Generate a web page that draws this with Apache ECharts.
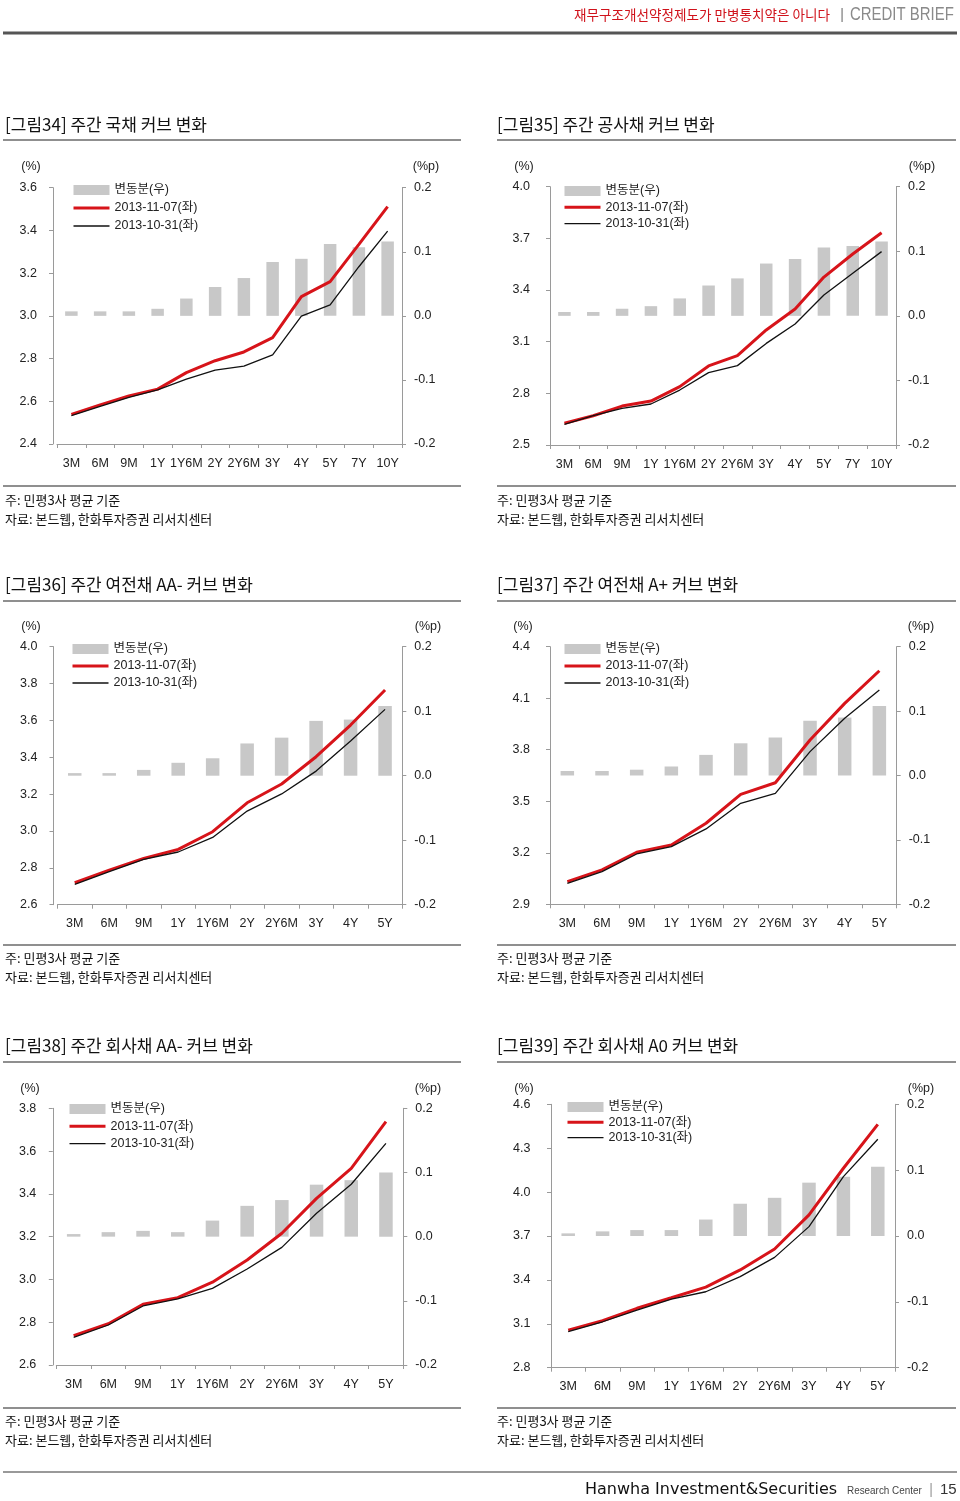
<!DOCTYPE html>
<html>
<head>
<meta charset="utf-8">
<script src="https://cdn.jsdelivr.net/npm/echarts@6/dist/echarts.min.js"></script>
<style>
html,body{margin:0;padding:0;background:#fff;}
#page{width:960px;height:1501px;}
</style>
</head>
<body>
<div id="page"></div>
<script>
// ---------- DATA ----------
const cats12 = ['3M','6M','9M','1Y','1Y6M','2Y','2Y6M','3Y','4Y','5Y','7Y','10Y'];
const cats10 = ['3M','6M','9M','1Y','1Y6M','2Y','2Y6M','3Y','4Y','5Y'];

const seriesNames = ['변동분(우)', '2013-11-07(좌)', '2013-10-31(좌)'];
const rightTicks = [-0.2, -0.1, 0, 0.1, 0.2];

// [그림34] 국채
const gov_1107 = [2.539,2.583,2.625,2.657,2.734,2.790,2.831,2.898,3.090,3.160,3.335,3.511];
const gov_1031 = [2.533,2.576,2.618,2.653,2.704,2.746,2.765,2.817,2.999,3.051,3.230,3.397];
const gov_chg  = [0.007,0.007,0.007,0.011,0.027,0.045,0.059,0.084,0.089,0.112,0.107,0.116];
const gov_ticks = [2.4,2.6,2.8,3.0,3.2,3.4,3.6];

// [그림35] 공사채
const pub_1107 = [2.626,2.670,2.726,2.755,2.839,2.959,3.019,3.168,3.290,3.475,3.609,3.733];
const pub_1031 = [2.620,2.670,2.713,2.738,2.819,2.920,2.961,3.090,3.203,3.371,3.497,3.623];
const pub_chg  = [0.006,0.006,0.011,0.015,0.027,0.047,0.058,0.081,0.088,0.106,0.108,0.115];
const pub_ticks = [2.5,2.8,3.1,3.4,3.7,4.0];

// [그림36] 여전채 AA-
const cardAA_1107 = [2.719,2.788,2.851,2.900,2.996,3.153,3.255,3.403,3.575,3.765];
const cardAA_1031 = [2.710,2.779,2.846,2.886,2.965,3.108,3.201,3.325,3.488,3.660];
const cardAA_chg  = [0.004,0.004,0.009,0.020,0.027,0.050,0.059,0.085,0.087,0.108];
const cardAA_ticks = [2.6,2.8,3.0,3.2,3.4,3.6,3.8,4.0];

// [그림37] 여전채 A+
const cardAp_1107 = [3.032,3.100,3.203,3.245,3.372,3.540,3.608,3.857,4.070,4.260];
const cardAp_1031 = [3.022,3.090,3.193,3.236,3.339,3.488,3.546,3.789,3.983,4.148];
const cardAp_chg  = [0.007,0.007,0.009,0.014,0.032,0.050,0.059,0.085,0.090,0.108];
const cardAp_ticks = [2.9,3.2,3.5,3.8,4.1,4.4];

// [그림38] 회사채 AA-
const corpAA_1107 = [2.737,2.793,2.884,2.915,2.987,3.091,3.216,3.379,3.519,3.738];
const corpAA_1031 = [2.729,2.787,2.876,2.909,2.958,3.049,3.150,3.309,3.445,3.636];
const corpAA_chg  = [0.004,0.007,0.009,0.007,0.025,0.048,0.057,0.081,0.088,0.100];
const corpAA_ticks = [2.6,2.8,3.0,3.2,3.4,3.6,3.8];

// [그림39] 회사채 A0
const corpA_1107 = [3.057,3.121,3.206,3.278,3.351,3.468,3.611,3.844,4.163,4.463];
const corpA_1031 = [3.046,3.114,3.194,3.269,3.319,3.422,3.554,3.764,4.106,4.361];
const corpA_chg  = [0.004,0.007,0.009,0.009,0.025,0.049,0.058,0.081,0.090,0.105];
const corpA_ticks = [2.8,3.1,3.4,3.7,4.0,4.3,4.6];

const titles = [
  '[그림34] 주간 국채 커브 변화',
  '[그림35] 주간 공사채 커브 변화',
  '[그림36] 주간 여전채 AA- 커브 변화',
  '[그림37] 주간 여전채 A+ 커브 변화',
  '[그림38] 주간 회사채 AA- 커브 변화',
  '[그림39] 주간 회사채 A0 커브 변화'
];
const note1 = '주: 민평3사 평균 기준';
const note2 = '자료: 본드웹, 한화투자증권 리서치센터';
const headerTitle = '재무구조개선약정제도가 만병통치약은 아니다';
const headerBrand = 'CREDIT BRIEF';
const footerCompany = 'Hanwha Investment&Securities';
const footerCenter = 'Research Center';
const pageNo = '15';

// ---------- LAYOUT ----------
const FONT = "'Liberation Sans', 'Noto Sans CJK KR', sans-serif";
const KFONT = "'Noto Sans CJK KR', sans-serif";
const RED = '#d7141a';
const BLACK = '#111';
const BAR = '#c8c8c8';
const AXIS = '#9a9a9a';
const CLEAR = 'rgba(0,0,0,0)';
const RED_W = 3, BLACK_W = 1.3;

const panels = [
  {cats:cats12, now:gov_1107, prev:gov_1031, chg:gov_chg, ticks:gov_ticks,
   g:{l:57, t:187.7, r:402, b:444}, off:4, lm:16, barW:12.5,
   lg:{l:72, t:183, gap:4}, unitL:[31,167], unitR:[426,167]},
  {cats:cats12, now:pub_1107, prev:pub_1031, chg:pub_chg, ticks:pub_ticks,
   g:{l:550, t:186.7, r:896, b:445}, off:0, lm:20, barW:12.5,
   lg:{l:563, t:184, gap:2.3}, unitL:[524,167], unitR:[922,167]},
  {cats:cats10, now:cardAA_1107, prev:cardAA_1031, chg:cardAA_chg, ticks:cardAA_ticks,
   g:{l:57.5, t:646.7, r:402.3, b:904.7}, off:4, lm:16, barW:13.5,
   lg:{l:71, t:642, gap:3}, unitL:[31,627], unitR:[428,627]},
  {cats:cats10, now:cardAp_1107, prev:cardAp_1031, chg:cardAp_chg, ticks:cardAp_ticks,
   g:{l:550, t:646.7, r:896.7, b:904.3}, off:0, lm:20, barW:13.5,
   lg:{l:563, t:642, gap:3}, unitL:[523,627], unitR:[921,627]},
  {cats:cats10, now:corpAA_1107, prev:corpAA_1031, chg:corpAA_chg, ticks:corpAA_ticks,
   g:{l:56.3, t:1108.3, r:403.3, b:1365}, off:3.5, lm:16.5, barW:13.5,
   lg:{l:68, t:1102, gap:3.3}, unitL:[30,1089], unitR:[428,1089]},
  {cats:cats10, now:corpA_1107, prev:corpA_1031, chg:corpA_chg, ticks:corpA_ticks,
   g:{l:551, t:1104.3, r:895, b:1367.7}, off:0, lm:20.5, barW:13.5,
   lg:{l:566, t:1100, gap:1.3}, unitL:[524,1089], unitR:[921,1089]}
];

function fmt(v){ if (Math.abs(v) < 1e-9) return '0.0'; return v.toFixed(1); }

const grid = [], xAxis = [], yAxis = [], series = [], legend = [];
panels.forEach((p, i) => {
  grid.push({left:p.g.l, top:p.g.t, width:p.g.r - p.g.l, height:p.g.b - p.g.t,
             containLabel:false, outerBoundsMode:'none'});
  xAxis.push({type:'category', gridIndex:i, data:p.cats, boundaryGap:true,
    axisLine:{show:true, onZero:false, lineStyle:{color:AXIS, width:1}},
    axisTick:{show:true, length:4, inside:false, lineStyle:{color:AXIS}},
    axisLabel:{interval:0, fontSize:12.5, color:'#222', margin:13, fontFamily:FONT},
    splitLine:{show:false}});
  const lt = p.ticks;
  yAxis.push({type:'value', gridIndex:i, position:'left', offset:p.off,
    min:lt[0], max:lt[lt.length-1],
    axisLine:{show:true, onZero:false, lineStyle:{color:AXIS, width:1}},
    axisTick:{show:true, length:4, lineStyle:{color:AXIS}, customValues:lt},
    axisLabel:{fontSize:12.5, color:'#222', margin:p.lm, fontFamily:FONT, formatter:fmt, customValues:lt},
    splitLine:{show:false}});
  yAxis.push({type:'value', gridIndex:i, position:'right',
    min:rightTicks[0], max:rightTicks[rightTicks.length-1], interval:0.1,
    axisLine:{show:true, onZero:false, lineStyle:{color:AXIS, width:1}},
    axisTick:{show:true, length:4, lineStyle:{color:AXIS}, customValues:rightTicks},
    axisLabel:{fontSize:12.5, color:'#222', margin:12, fontFamily:FONT, formatter:fmt, customValues:rightTicks},
    splitLine:{show:false}});
  series.push({name:seriesNames[0], type:'bar', xAxisIndex:i, yAxisIndex:2*i+1,
    data:p.chg, barWidth:p.barW, itemStyle:{color:BAR}, silent:true});
  series.push({name:seriesNames[1], type:'line', xAxisIndex:i, yAxisIndex:2*i,
    data:p.now, symbol:'none', showSymbol:false, lineStyle:{color:RED, width:RED_W}, itemStyle:{color:RED}, silent:true});
  series.push({name:seriesNames[2], type:'line', xAxisIndex:i, yAxisIndex:2*i,
    data:p.prev, symbol:'none', showSymbol:false, lineStyle:{color:BLACK, width:BLACK_W}, itemStyle:{color:BLACK}, silent:true});
  legend.push({left:p.lg.l, top:p.lg.t, orient:'vertical', itemWidth:36, itemHeight:10,
    itemGap:p.lg.gap, padding:0, selectedMode:false,
    textStyle:{fontSize:12.5, color:'#222', fontFamily:FONT, lineHeight:14},
    data:[
      {name:seriesNames[0], icon:'rect'},
      {name:seriesNames[1], itemStyle:{color:CLEAR, borderColor:CLEAR, borderWidth:0, opacity:0},
       lineStyle:{color:RED, width:RED_W}},
      {name:seriesNames[2], itemStyle:{color:CLEAR, borderColor:CLEAR, borderWidth:0, opacity:0},
       lineStyle:{color:BLACK, width:BLACK_W}}
    ]});
});

// ---------- GRAPHIC TEXT / RULES ----------
const graphic = [];
function txt(x, y, text, font, fill, align, extra){
  graphic.push(Object.assign({type:'text', x:x, y:y, silent:true,
    style:{text:text, font:font, fill:fill, textAlign:align||'left', textVerticalAlign:'middle'}}, extra||{}));
}
function hline(x1, x2, y, color, w){
  graphic.push({type:'line', silent:true, shape:{x1:x1, y1:y, x2:x2, y2:y}, style:{stroke:color, lineWidth:w}});
}
// header
txt(830, 15, headerTitle, "14px " + KFONT, '#d0121b', 'right', {scaleX:0.97});
txt(842, 15, '|', "14px " + FONT, '#777', 'center');
txt(850, 15, headerBrand, "18px " + FONT, '#8a8a8a', 'left', {scaleX:0.83});
hline(3, 957, 33, '#555', 3);

// panel titles / notes
const rowY = [
  {title:125, tline:140, nline:486, n1:500, n2:519},
  {title:585, tline:601, nline:945, n1:958, n2:977},
  {title:1046, tline:1062, nline:1408, n1:1421, n2:1440}
];
const colX = [{x:5, l1:3, l2:461}, {x:497, l1:497, l2:956}];
titles.forEach((t, i) => {
  const r = rowY[Math.floor(i/2)], c = colX[i%2];
  txt(c.x, r.title, t, "17px " + KFONT, '#111', 'left');
  hline(c.l1, c.l2, r.tline, '#6a6a6a', 1.5);
  hline(c.l1, c.l2, r.nline, '#6a6a6a', 1.5);
  txt(c.x, r.n1, note1, "13px " + KFONT, '#111', 'left');
  txt(c.x, r.n2, note2, "13px " + KFONT, '#111', 'left');
});
// axis unit labels
panels.forEach(p => {
  txt(p.unitL[0], p.unitL[1], '(%)', "12.5px " + FONT, '#222', 'center');
  txt(p.unitR[0], p.unitR[1], '(%p)', "12.5px " + FONT, '#222', 'center');
});
// footer
hline(3, 957, 1472, '#999', 2);
txt(585, 1490, footerCompany, "16px 'DejaVu Sans', sans-serif", '#111', 'left');
txt(847, 1491, footerCenter, "11px " + FONT, '#444', 'left', {scaleX:0.9});
txt(931, 1490, '|', "14px " + FONT, '#999', 'center');
txt(940, 1490, pageNo, "15px " + FONT, '#333', 'left');

const chart = echarts.init(document.getElementById('page'), null, {renderer:'canvas', width:960, height:1501});
chart.setOption({
  animation:false,
  backgroundColor:'#fff',
  textStyle:{fontFamily:FONT},
  grid:grid, xAxis:xAxis, yAxis:yAxis, series:series, legend:legend, graphic:graphic
});
</script>
</body>
</html>
